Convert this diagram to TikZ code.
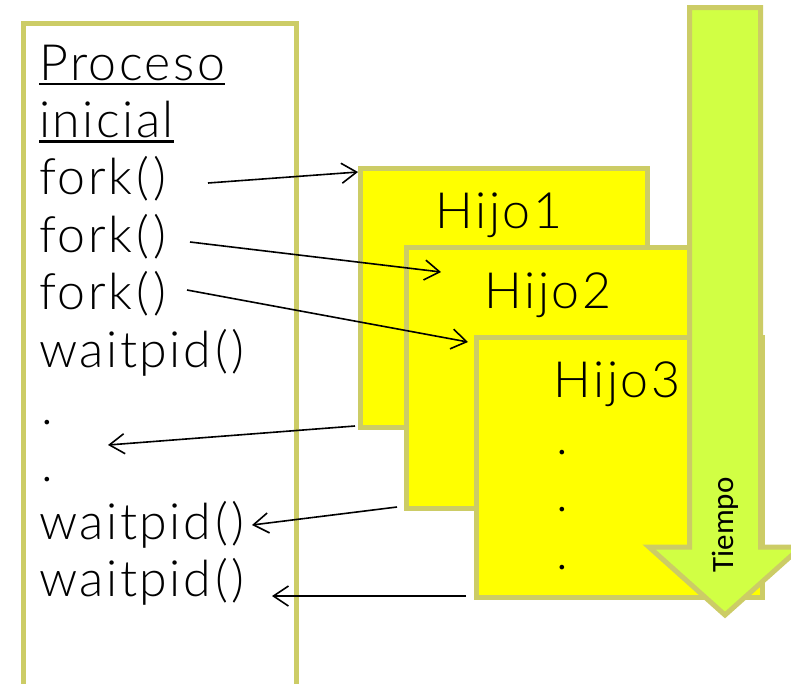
\documentclass[tikz,border=0pt]{standalone}
\usepackage{fontspec}
\setmainfont{Lato Light}[LetterSpace=5]
\newfontfamily\carlito{Carlito}
\usetikzlibrary{arrows.meta}
\definecolor{khaki}{RGB}{204,204,102}
\definecolor{hijoyellow}{RGB}{255,255,0}
\definecolor{limegreen}{RGB}{209,255,68}
\newcommand{\parens}{\kern4pt(\kern4pt)}
\begin{document}
\begin{tikzpicture}[x=1pt,y=-1pt,
  box/.style={draw=khaki, line width=5pt, inner sep=0pt, anchor=north west},
  lbl/.style={inner sep=0pt, anchor=base west, font=\fontsize{50}{57.4}\selectfont},
  clbl/.style={lbl, anchor=base},
  conn/.style={draw=black, line width=1.6pt, -{Straight Barb[length=15pt,width=20pt,line width=1.6pt]}},
  uline/.style={draw=black, line width=2.2pt}]
\useasboundingbox (0,0) rectangle (791,683);
\clip (0,0) rectangle (791,683);
\fill[white] (0,0) rectangle (791,683);
% parent process box
\node[box, minimum width=273pt, minimum height=690pt] (parent) at (21,21) {};
% child boxes
\node[box, fill=hijoyellow, minimum width=287pt, minimum height=259pt] (h1) at (358,166) {};
\node[box, fill=hijoyellow, minimum width=286pt, minimum height=261pt] (h2) at (404,245) {};
\node[box, fill=hijoyellow, minimum width=286pt, minimum height=260pt] (h3) at (474,335) {};
% time arrow
\draw[draw=khaki, line width=5pt, fill=limegreen, line join=miter]
  (689.5,7.5) -- (760.5,7.5) -- (760.5,547) -- (801,547) -- (725,615)
  -- (649,547) -- (689.5,547) -- cycle;
\node[rotate=90, inner sep=0pt, font=\carlito\fontsize{31}{31}\selectfont] (tiempo) at (725,525) {Tiempo};
% left texts
\node[lbl] (proc) at (39,80) {Proceso};
\node[lbl] (ini) at (39,137.4) {inicial};
\node[lbl] (f1) at (39,194.8) {fork\parens};
\node[lbl] (f2) at (39,252.2) {fork\parens};
\node[lbl] (f3) at (39,309.6) {fork\parens};
\node[lbl] (w1) at (39,367) {waitpid\parens};
\node[lbl] (d1) at (41,424.4) {.};
\node[lbl] (d2) at (41,481.8) {.};
\node[lbl] (w2) at (39,539.2) {waitpid\parens};
\node[lbl] (w3) at (39,596.6) {waitpid\parens};
\draw[uline] ([yshift=-4pt]proc.base west) -- ([yshift=-4pt]proc.base east);
\draw[uline] ([yshift=-4pt]ini.base west) -- ([yshift=-4pt]ini.base east);
% child texts
\node[clbl] (t1) at (499,228) {Hijo1};
\node[clbl] (t2) at (548,308) {Hijo2};
\node[clbl] (t3) at (617,397) {Hijo3};
\node[lbl] (e1) at (556,454.4) {.};
\node[lbl] (e2) at (556,511.8) {.};
\node[lbl] (e3) at (556,569.2) {.};
% connector end points
\coordinate (s1) at (208,183);
\coordinate (s2) at (190,242);
\coordinate (s3) at (187,290);
\coordinate (k1) at (358,172);
\coordinate (k2) at (441,272);
\coordinate (k3) at (468,342);
\coordinate (r1) at (108,445);
\coordinate (r2) at (252,525);
\coordinate (r3) at (272,596);
\coordinate (c1) at (355,426);
\coordinate (c2) at (397,507);
\coordinate (c3) at (466,596);
\draw[conn] (s1) -- (k1);
\draw[conn] (s2) -- (k2);
\draw[conn] (s3) -- (k3);
\draw[conn] (c1) -- (r1);
\draw[conn] (c2) -- (r2);
\draw[conn] (c3) -- (r3);
\end{tikzpicture}
\end{document}
